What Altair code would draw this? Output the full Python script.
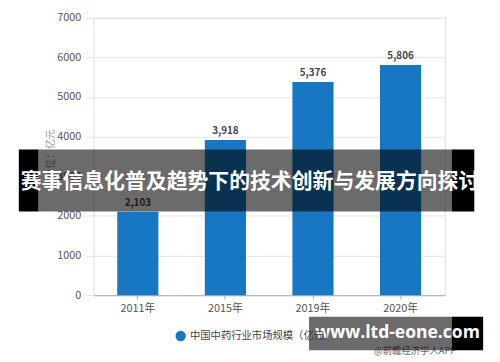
import altair as alt
import pandas as pd

years = ["2011年", "2015年", "2019年", "2020年"]
values = [2103, 3918, 5376, 5806]
series_name = "中国中药行业市场规模（亿元）"
y_ticks = [0, 1000, 2000, 3000, 4000, 5000, 6000, 7000]
banner_text = "赛事信息化普及趋势下的技术创新与发展方向探讨"
site_text = "www.ltd-eone.com"
source_text = "@前瞻经济学人APP"

FONT = "Noto Sans CJK SC"
BLUE = "#1777c2"
OVERLAY_OPACITY = 0.58

df = pd.DataFrame({"year": years, "value": values, "series": [series_name] * len(years)})
one = alt.Data(values=[{"k": 1}])

x_enc = alt.X("year:N", sort=years, title=None,
              scale=alt.Scale(paddingInner=0.53, paddingOuter=0.27),
              axis=alt.Axis(labelAngle=0, labelColor="#555", labelFontSize=11, labelFont=FONT,
                            domainColor="#b0b0b0", tickColor="#b0b0b0", tickSize=4,
                            labelPadding=4))
y_enc = alt.Y("value:Q", title="单位：亿元",
              scale=alt.Scale(domain=[0, 7000], nice=False),
              axis=alt.Axis(values=y_ticks, format="d", labelColor="#555", labelFontSize=11,
                            labelFont=FONT, domain=False, tickColor="#e3e3e3", tickSize=8,
                            gridColor="#e3e3e3", labelPadding=5,
                            titleColor="#999", titleFontSize=10, titleFontWeight="normal",
                            titleFont=FONT, titleX=-39, titleY=138, titleAngle=-90))

bars = alt.Chart(df).mark_bar(color=BLUE).encode(
    x=x_enc, y=y_enc,
    color=alt.Color("series:N", scale=alt.Scale(range=[BLUE]),
                    legend=alt.Legend(title=None, orient="none", legendX=83, legendY=318,
                                      symbolType="circle", symbolSize=110, labelFontSize=10.5,
                                      labelColor="#444", labelFont=FONT, symbolStrokeWidth=0))
)

labels = alt.Chart(df).mark_text(dy=-9, fontSize=10, fontWeight="bold", color="#444", font=FONT).encode(
    x=alt.X("year:N", sort=years), y="value:Q", text=alt.Text("value:Q", format=",")
)

source = alt.Chart(one).mark_text(fontSize=9.5, color="#666", font=FONT, align="left").encode(
    x=alt.value(285), y=alt.value(339), text=alt.value(source_text)
)

# banner overlay: solid black ends, translucent middle
banner_left = alt.Chart(one).mark_rect(color="black").encode(
    x=alt.value(-76), x2=alt.value(-56), y=alt.value(134), y2=alt.value(197)
)
banner_right = alt.Chart(one).mark_rect(color="black").encode(
    x=alt.value(364), x2=alt.value(387), y=alt.value(134), y2=alt.value(197)
)
banner_mid = alt.Chart(one).mark_rect(color="black", opacity=OVERLAY_OPACITY).encode(
    x=alt.value(-56), x2=alt.value(364), y=alt.value(134), y2=alt.value(197)
)
banner_text_mark = alt.Chart(one).mark_text(fontSize=21.2, fontWeight="bold", color="white", font=FONT).encode(
    x=alt.value(159), y=alt.value(167), text=alt.value(banner_text)
)

box_right = alt.Chart(one).mark_rect(color="black").encode(
    x=alt.value(364), x2=alt.value(396), y=alt.value(304), y2=alt.value(338)
)
box_mid = alt.Chart(one).mark_rect(color="black", opacity=OVERLAY_OPACITY).encode(
    x=alt.value(219), x2=alt.value(364), y=alt.value(304), y2=alt.value(338)
)
box_text = alt.Chart(one).mark_text(fontSize=17.8, fontWeight="bold", color="white", font="Open Sans").encode(
    x=alt.value(309), y=alt.value(321), text=alt.value(site_text)
)

chart = alt.layer(
    bars, labels, source, banner_left, banner_right, banner_mid, banner_text_mark,
    box_right, box_mid, box_text
).properties(
    width=357, height=282,
    autosize=alt.AutoSizeParams(type="none"),
    padding={"left": 87, "top": 7, "right": 48, "bottom": 65}
).configure_view(stroke=None).configure(background="white")

chart.save("out.html", embed_options={"renderer": "svg", "actions": False})
